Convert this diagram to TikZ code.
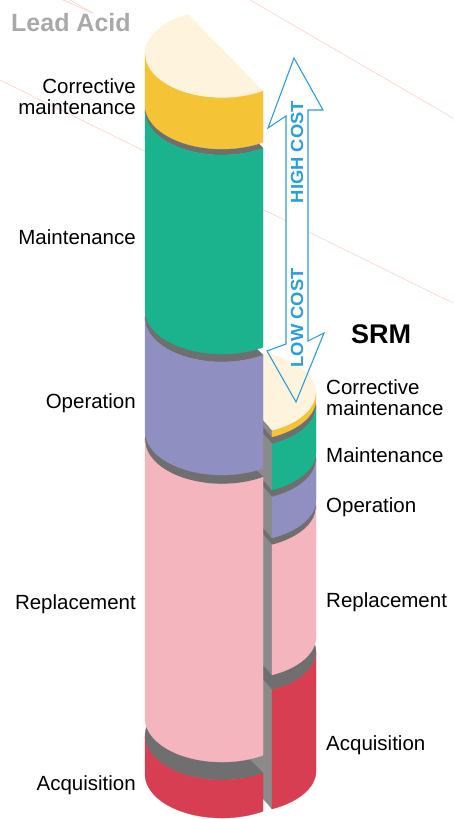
\documentclass[tikz,border=0pt]{standalone}
\usepackage{fontspec}
\setmainfont{Liberation Sans}

\definecolor{creamc}{HTML}{FEF3DC}
\definecolor{yellowc}{HTML}{F5C436}
\definecolor{greenc}{HTML}{1BB38E}
\definecolor{purplec}{HTML}{8F8FC1}
\definecolor{pinkc}{HTML}{F5B5BF}
\definecolor{redc}{HTML}{D83E51}
\definecolor{topgray}{HTML}{6F6F6F}
\definecolor{cutgray}{HTML}{8A8A8A}
\definecolor{costblue}{HTML}{2A9FDB}
\definecolor{titlegray}{HTML}{A9A9A9}
\definecolor{guideline}{HTML}{F8D2C6}

% One slab of the left cylinder: #1 top level, #2 bottom level, #3 side colour, #4 top colour
\newcommand{\leadslab}[4]{%
  \filldraw[fill=#4, draw=#4, line width=0.3pt]
    plot[domain=57.8:243.9, samples=70] ({222+77*cos(\x)},{#1+44*sin(\x)}) -- cycle;
  \filldraw[fill=#3, draw=#3, line width=0.3pt]
    plot[domain=57.8:180, samples=60] ({222+77*cos(\x)},{#1+44*sin(\x)})
    -- plot[domain=180:57.8, samples=60] ({222+77*cos(\x)},{#2+44*sin(\x)}) -- cycle;
}
% One slab of the right cylinder piece, with its cut face
\newcommand{\srmslab}[4]{%
  \filldraw[fill=#4, draw=#4, line width=0.3pt]
    plot[domain=-115.4:64.6, samples=70] ({239+77*cos(\x)},{#1+42*sin(\x)}) -- cycle;
  \filldraw[fill=cutgray, draw=cutgray, line width=0.3pt]
    ({239+77*cos(64.6)},{#1+42*sin(64.6)}) -- ({239-77*cos(64.6)},{#1-42*sin(64.6)})
    -- ({239-77*cos(64.6)},{#2-42*sin(64.6)}) -- ({239+77*cos(64.6)},{#2+42*sin(64.6)}) -- cycle;
  \filldraw[fill=#3, draw=#3, line width=0.3pt]
    plot[domain=0:64.6, samples=50] ({239+77*cos(\x)},{#1+42*sin(\x)})
    -- plot[domain=64.6:0, samples=50] ({239+77*cos(\x)},{#2+42*sin(\x)}) -- cycle;
}
\def\arrowpath{(294,58) -- (323,110) -- (308,110) -- (308,341) -- (324,333) -- (296,402)
  -- (267,351) -- (286,344) -- (286,116) -- (268,128) -- cycle}

\begin{document}
\begin{tikzpicture}[x=1pt, y=-1pt,
  lbl/.style={font=\fontsize{20.5}{21}\selectfont, inner sep=0pt},
  costlbl/.style={font=\bfseries\fontsize{17.5}{17.5}\selectfont, text=costblue, inner sep=0pt, rotate=90},
  bgline/.style={guideline, line width=0.6pt}]
\useasboundingbox (0,0) rectangle (453,819);

% faint guide lines in the background
\draw[bgline] (0,80) -- (453,303);
\draw[bgline] (250,0) -- (453,118);
\draw[bgline] (63,0) -- (93,13);
\draw[bgline] (70,0) -- (93,13);

% body of the cost arrow (outline comes last)
\fill[white] \arrowpath;

% SRM column, bottom slab first
\srmslab{652}{771}{redc}{topgray}
\srmslab{507}{637}{pinkc}{topgray}
\srmslab{459}{500}{purplec}{topgray}
\srmslab{406}{452}{greenc}{topgray}
\srmslab{393}{399}{yellowc}{creamc}

% Lead acid column, bottom slab first
\leadslab{736}{774}{redc}{topgray}
\leadslab{440}{718}{pinkc}{topgray}
\leadslab{318}{431}{purplec}{topgray}
\leadslab{111}{310}{greenc}{topgray}
\leadslab{54}{105}{yellowc}{creamc}

% cost arrow outline and labels
\draw[costblue, line width=1.1pt, line join=miter] \arrowpath;
\node[costlbl] (high) at (297,152) {\scalebox{1.05}[1]{HIGH COST}};
\node[costlbl] (low) at (297,318) {\scalebox{1.05}[1]{LOW COST}};

% titles
\node[font=\bfseries\fontsize{25}{25}\selectfont, text=titlegray, inner sep=0pt, anchor=base west] (lead) at (11,31) {Lead Acid};
\node[font=\bfseries\fontsize{27}{27}\selectfont, inner sep=0pt, anchor=base west] (srm) at (351,343) {SRM};

% labels of the lead acid column
\node[lbl, anchor=base east, align=right] (l-corr) at (136,114) {Corrective\\maintenance};
\node[lbl, anchor=base east] (l-main) at (136,244) {Maintenance};
\node[lbl, anchor=base east] (l-oper) at (136,408) {Operation};
\node[lbl, anchor=base east] (l-repl) at (136,609) {Replacement};
\node[lbl, anchor=base east] (l-acq) at (136,790) {Acquisition};

% labels of the SRM column
\node[lbl, anchor=base west, align=left] (r-corr) at (326,415) {Corrective\\maintenance};
\node[lbl, anchor=base west] (r-main) at (326,462) {Maintenance};
\node[lbl, anchor=base west] (r-oper) at (326,512) {Operation};
\node[lbl, anchor=base west] (r-repl) at (326,607) {Replacement};
\node[lbl, anchor=base west] (r-acq) at (326,750) {Acquisition};
\end{tikzpicture}
\end{document}
